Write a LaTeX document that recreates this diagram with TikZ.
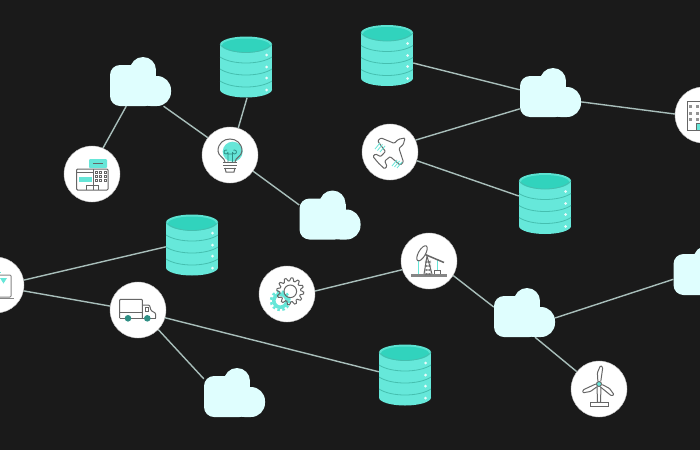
\documentclass[tikz,border=0pt]{standalone}
\usepackage{tikz}
\usetikzlibrary{backgrounds}
\definecolor{pagebg}{HTML}{1A1A1A}
\definecolor{linkgray}{HTML}{A8BEBA}
\definecolor{cloudfill}{HTML}{DFFEFE}
\definecolor{dbbody}{HTML}{66E8DA}
\definecolor{dbtop}{HTML}{31D3BD}
\definecolor{dbrim}{HTML}{5CE3D2}
\definecolor{dbband}{HTML}{45BFAF}
\definecolor{icongray}{HTML}{666666}
\definecolor{iconteal}{HTML}{66E6D8}
\definecolor{wheelteal}{HTML}{2F8F85}
\tikzset{
  link/.style={linkgray,line width=1.4pt},
  iconcircle/.style={circle,fill=white,draw=white!75!black,line width=0.4pt,inner sep=0pt,minimum size=56pt},
  cloudbox/.style={rectangle,inner sep=0pt,minimum width=61pt,minimum height=49pt},
  dbbox/.style={rectangle,inner sep=0pt,minimum width=52pt,minimum height=61pt},
  iconline/.style={icongray,line width=1pt},
  cloudicon/.pic={
    \fill[cloudfill,rounded corners=10pt] (-30.5,-16.5) rectangle (15,24.5);
    \fill[cloudfill,rounded corners=14pt] (-4,-5.5) rectangle (30.5,24.5);
    \fill[cloudfill] (2.5,-11.5) circle (13);
    \fill[cloudfill] (-10.5,-11.5) rectangle (15.5,0);
  },
  dbicon/.pic={
    \fill[dbbody] (-26,-22.5) rectangle (26,22.5);
    \fill[dbbody] (0,22.5) ellipse [x radius=26,y radius=8];
    \fill[dbrim] (0,-22.5) ellipse [x radius=26,y radius=8];
    \fill[dbtop] (0,-21.5) ellipse [x radius=24,y radius=7];
    \draw[dbband,line width=0.8pt] (-26,-22.5) .. controls (-16,-11.8) and (16,-11.8) .. (26,-22.5);
    \foreach \y in {-10,2,14}{
      \draw[dbband,line width=0.8pt] (-26,\y) .. controls (-14,\y+8) and (14,\y+8) .. (26,\y);
    }
    \foreach \y in {-12,0,11,23}{
      \fill[white!85!dbbody] (20.5,\y) circle (1.5);
    }
  },
  % ====== Icons inside the white circles ======
  cashicon/.pic={
    \fill[iconteal,rounded corners=1pt] (-3,-15) rectangle (15,-6);
    \draw[iconline] (1,-10.5) -- (11,-10.5);
    \draw[iconline,rounded corners=1pt] (-15.3,-5) rectangle (16,16);
    \draw[iconline] (1.3,-5) -- (1.3,16) (-15.3,-1.5) -- (1.3,-1.5);
    \fill[iconteal] (-13,2.7) rectangle (-0.3,7.7);
    \draw[iconline] (-5.3,15.5) -- (-5.3,11) -- (6.3,11) -- (6.3,15.5);
    \foreach \x in {4,8.5,13}{
      \foreach \y in {-1.5,2.5,6.5}{
        \draw[icongray,line width=0.5pt] (\x-1,\y-1) rectangle (\x+1,\y+1);
      }
    }
  },
  lampicon/.pic={
    \fill[iconteal] (2.7,-3.3) circle (10);
    \draw[iconline,line width=1pt] (-5,7) .. controls (-5,3) and (-12,1) .. (-12,-4) .. controls (-12,-20) and (12,-20) .. (12,-4) .. controls (12,1) and (5,3) .. (5,7);
    \draw[iconline] (-7,7) -- (7,7) (-7,10) -- (7,10) (-6,13) -- (6,13);
    \draw[iconline] (-5,13) -- (-4,17) -- (4,17) -- (5,13);
    \draw[wheelteal,line width=0.8pt] (-2,7) -- (-2,-3) (2.5,7) -- (2.5,-3) (-2,-3) arc [start angle=0,end angle=300,radius=2] (2.5,-3) arc [start angle=180,end angle=-120,radius=2] (-2,-1) -- (2.5,-1);
  },
  planeicon/.pic={
    \begin{scope}[rotate=43]
      \draw[iconline,fill=white,rounded corners=1pt] (20.5,0) -- (15,-3.5) -- (9,-3.5) -- (3,-16.5) -- (-1.5,-16.5) -- (-3,-3.5) -- (-10,-3) -- (-12,-8.5) -- (-15.5,-8.5) -- (-16,0) -- (-15.5,8.5) -- (-12,8.5) -- (-10,3) -- (-3,3.5) -- (-1.5,16.5) -- (3,16.5) -- (9,3.5) -- (15,3.5) -- cycle;
    \end{scope}
    \foreach \a/\b in {-15/-3,-12.5/-1.5,-10/0}{
      \draw[iconteal,line width=0.8pt] (\a,\b) -- (\a+5,\b-6);
    }
    \foreach \a/\b in {2/14,4.5/15,7/16}{
      \draw[iconteal,line width=0.8pt] (\a,\b) -- (\a+5,\b-6);
    }
  },
  gearicon/.pic={
    \draw[iconteal,line width=3.5pt] (-6.7,6.7) circle (6.5);
    \draw[iconteal,line width=2.5pt,dash pattern=on 2.5pt off 2.5pt] (-6.7,6.7) circle (9.3);
    \draw[iconline] plot[domain=0:360,samples=97] ({3.3+(12+1.5*sign(sin(12*\x)))*cos(\x)},{-2.7+(12+1.5*sign(sin(12*\x)))*sin(\x)});
    \draw[iconline] (3.3,-2.7) circle (6.3);
  },
  oilicon/.pic={
    \draw[iconteal,line width=0.9pt] (-11,13) -- (-11,-1) (8,9) -- (8,-1);
    \fill[icongray!80] (-17.7,13) rectangle (18,15.5);
    \draw[iconline] (5.3,13) -- (5.3,9) -- (11.3,9) -- (11.3,13);
    \draw[iconline] (-5,13) -- (-2,-5) -- (3,13);
    \foreach \y in {0,4,8,12}{
      \draw[icongray,line width=0.6pt] (-4,\y) -- (2,\y+2) (2,\y) -- (-4,\y+2);
    }
    \draw[icongray,line width=1.5pt] (-5,-7) -- (15,1.5);
    \draw[iconline,fill=white,rotate around={-30:(-7,-7.7)}] (-7,-7.7) ellipse [x radius=3.5,y radius=8.5];
  },
  laptopicon/.pic={
    \draw[icongray!80,line width=1pt,rounded corners=1pt] (-15,12) rectangle (15,-10);
    \draw[icongray!80,line width=1pt] (-18,13.5) -- (18,13.5);
    \fill[iconteal] (4,-7) -- (11,-7) -- (7.5,-1.5) -- cycle;
    \fill[iconteal] (3.5,-13.5) rectangle (5,-12);
  },
  truckicon/.pic={
    \draw[iconline,rounded corners=0.8pt] (-18.3,8) -- (-18.3,-10.7) -- (4.3,-10.7) -- (4.3,8);
    \draw[iconline] (-18.3,2.5) -- (4.3,2.5) (-18.3,8) -- (17.7,8);
    \draw[iconline,rounded corners=1pt] (5,-5) -- (11.5,-5) -- (13,0.5) -- (17.7,3.3) -- (17.7,8);
    \draw[iconline] (7,-3) rectangle (10.5,1);
    \fill[wheelteal] (-10,8.3) circle (3.3) (9.3,8.3) circle (3.3);
  },
  turbineicon/.pic={
    \draw[iconline,fill=white] (-2,-3) -- (-1.5,13.3) -- (1.5,13.3) -- (2,-3);
    \draw[iconline,fill=white] (-9,13.3) rectangle (9.7,17.3);
    \foreach \r in {-6,117,-127}{
      \draw[iconline,fill=white,rotate around={\r:(0,-5)},rounded corners=1pt] (-1.5,-8) -- (-2.8,-16) -- (-0.5,-23.5) -- (2,-22) -- (1.5,-8);
    }
    \draw[iconline,fill=iconteal] (0,-5) circle (2.5);
  },
  buildingicon/.pic={
    \draw[iconline] (-16,15) -- (-16,-14) -- (12,-14) -- (12,15) -- cycle;
    \foreach \x in {-14,-7,0}{
      \foreach \y in {-10.5,-3.5,3}{
        \fill[icongray!70] (\x,\y) rectangle (\x+3.2,\y+3.2);
      }
    }
    \fill[iconteal] (-7,8.5) rectangle (-2,15);
    \draw[iconline] (-7,15) -- (-7,8.5) -- (-2,8.5);
  }
}
\begin{document}
\begin{tikzpicture}[x=1pt,y=-1pt]
  \useasboundingbox (0,0) rectangle (700,450);

  % ====== Clouds ======
  \foreach \name/\x/\y in {cloudA/140.5/81.5,cloudB/330/215,cloudC/550.5/92.5,cloudD/524.5/312.5,cloudE/704/270.5,cloudF/234.5/392.5}{
    \node[cloudbox] (\name) at (\x,\y) {};
    \pic at (\name) {cloudicon};
  }

  % ====== Databases ======
  \foreach \name/\x/\y in {dbA/246/67,dbB/387/55.5,dbC/545/203.5,dbD/192/245,dbE/405/375}{
    \node[dbbox] (\name) at (\x,\y) {};
    \pic at (\name) {dbicon};
  }

  % ====== Circles with their icons ======
  \foreach \name/\x/\y in {cash/92/174,lamp/230/155,plane/390/152,gear/287/294,oil/429/261,laptop/-4/285,truck/138/310,turbine/599/389,building/703/115}{
    \node[iconcircle] (\name) at (\x,\y) {};
    \pic at (\name) {\name icon};
  }

  % ====== Connectors ======
  \begin{pgfonlayer}{background}
    \fill[pagebg] (0,0) rectangle (700,450);
    \foreach \from/\to in {cash.67/cloudA.-120,cloudA.-47/lamp.142,dbA.-88/lamp.73,lamp.-35/cloudB.162,
      dbB.-16/cloudC.175,plane.25/cloudC.208,plane.-18/dbC.164,cloudC.-17/building.178,
      laptop.10/dbD.184,laptop.-12/truck.172,truck.-16/dbE.173,truck.-44/cloudF.156,
      gear.6/oil.198,oil.-31/cloudD.170,cloudD.-10/cloudE.196,cloudD.-67/turbine.142}{
      \draw[link] (\from) -- (\to);
    }
  \end{pgfonlayer}
\end{tikzpicture}
\end{document}
